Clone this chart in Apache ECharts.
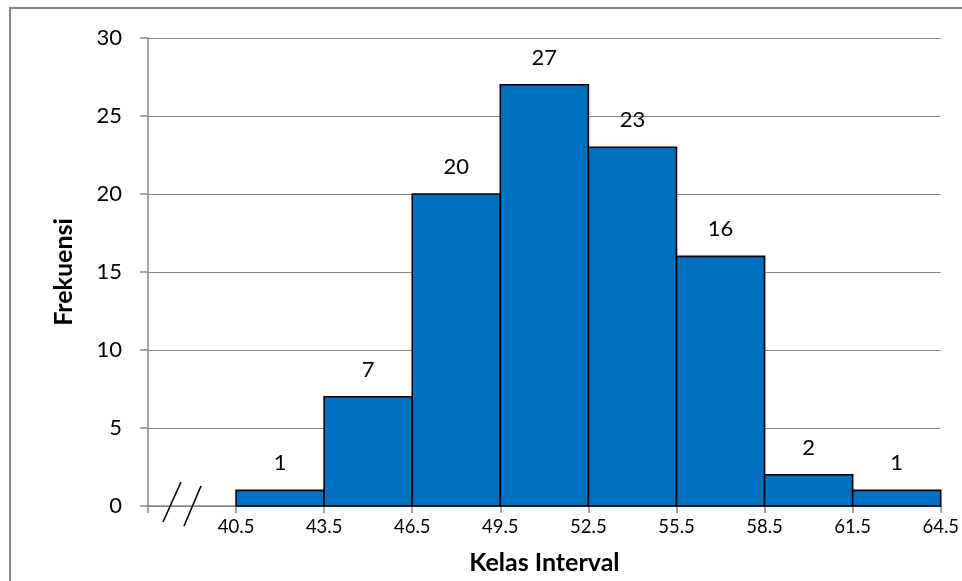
<!DOCTYPE html>
<html><head><meta charset="utf-8">
<script src="https://cdn.jsdelivr.net/npm/echarts@6/dist/echarts.min.js"></script>
<style>html,body{margin:0;padding:0;background:#fff}#c{width:962px;height:581px}</style>
</head><body><div id="c"></div>
<script>
const axisStart = 37.5;            // start of the (broken) x axis
const classWidth = 3;
const classLower = [40.5, 43.5, 46.5, 49.5, 52.5, 55.5, 58.5, 61.5];
const classUpper = [43.5, 46.5, 49.5, 52.5, 55.5, 58.5, 61.5, 64.5];
const frequencies = [1, 7, 20, 27, 23, 16, 2, 1];
const xTickLabels = ['', '40.5', '43.5', '46.5', '49.5', '52.5', '55.5', '58.5', '61.5', '64.5'];
const yMax = 30, yStep = 5;

const FONT = 'Lato, "Open Sans", sans-serif';
const chart = echarts.init(document.getElementById('c'), null, {renderer: 'canvas'});
const data = classLower.map((lo, i) => [lo - axisStart, classUpper[i] - axisStart, frequencies[i]]);

chart.setOption({
  animation: false,
  backgroundColor: '#fff',
  grid: {left: 148, right: 21, top: 38, bottom: 75, containLabel: false},
  xAxis: {
    type: 'value', min: 0, max: xTickLabels.length * classWidth - classWidth, interval: classWidth,
    name: 'Kelas Interval', nameLocation: 'middle', nameGap: 44,
    nameTextStyle: {fontFamily: FONT, fontWeight: 'bold', fontSize: 25, color: '#000'},
    axisLine: {show: true, lineStyle: {color: '#888', width: 1.5}},
    axisTick: {show: true, inside: false, length: 7, lineStyle: {color: '#888', width: 1.5}},
    axisLabel: {margin: 12, fontFamily: FONT, fontSize: 18.5, color: '#000',
      formatter: v => xTickLabels[Math.round(v / classWidth)] || ''},
    splitLine: {show: false}
  },
  yAxis: {
    type: 'value', min: 0, max: yMax, interval: yStep,
    name: 'Frekuensi', nameLocation: 'middle', nameGap: 72, nameRotate: 90,
    nameTextStyle: {fontFamily: FONT, fontWeight: 'bold', fontSize: 25, color: '#000'},
    axisLine: {show: true, lineStyle: {color: '#888', width: 1.5}},
    axisTick: {show: true, inside: false, length: 8, lineStyle: {color: '#888', width: 1.5}},
    axisLabel: {margin: 26, fontFamily: FONT, fontSize: 22, color: '#000'},
    splitLine: {show: true, lineStyle: {color: '#888', width: 1.2}}
  },
  series: [{
    type: 'custom',
    data: data,
    encode: {x: [0, 1], y: 2},
    renderItem: function (params, api) {
      const p0 = api.coord([api.value(0), 0]);
      const p1 = api.coord([api.value(1), api.value(2)]);
      return {
        type: 'group',
        children: [
          {type: 'rect', shape: {x: p0[0], y: p1[1], width: p1[0] - p0[0], height: p0[1] - p1[1]},
           style: {fill: '#0070C0', stroke: '#000', lineWidth: 1.6}},
          {type: 'text', x: (p0[0] + p1[0]) / 2, y: p1[1] - 16,
           style: {text: String(api.value(2)), fill: '#000', font: '22px ' + FONT,
                   align: 'center', verticalAlign: 'bottom'}}
        ]
      };
    }
  }]
});

const o = chart.convertToPixel({gridIndex: 0}, [0, 0]);
chart.setOption({
  graphic: [
    {type: 'rect', shape: {x: 10, y: 8, width: 1000, height: 1000},
     style: {fill: null, stroke: '#888', lineWidth: 2}, z: 100},
    {type: 'line', shape: {x1: o[0] + 15, y1: o[1] + 16, x2: o[0] + 33, y2: o[1] - 24},
     style: {stroke: '#000', lineWidth: 1.6}, z: 100},
    {type: 'line', shape: {x1: o[0] + 36, y1: o[1] + 20, x2: o[0] + 53, y2: o[1] - 20},
     style: {stroke: '#000', lineWidth: 1.6}, z: 100}
  ]
});
</script></body></html>
